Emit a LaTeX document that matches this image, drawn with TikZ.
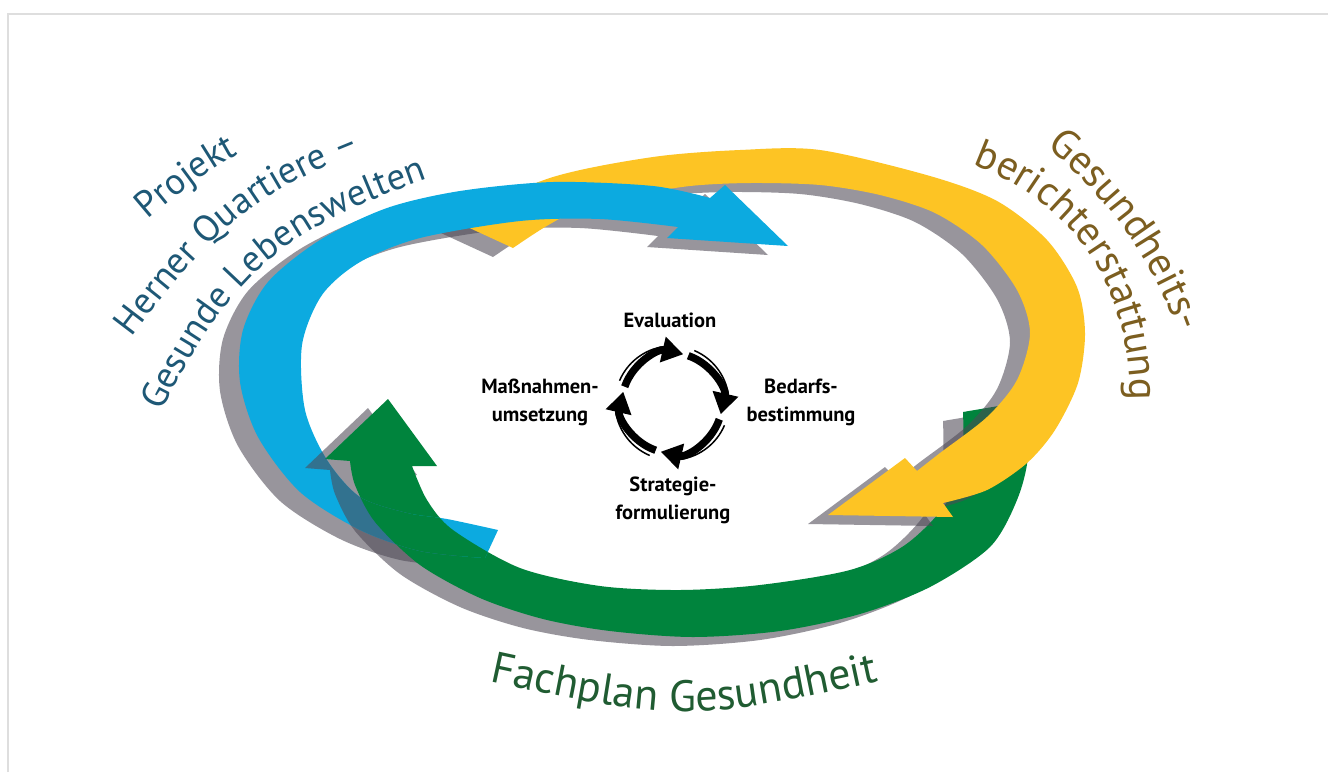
\documentclass[tikz,border=0pt]{standalone}
\usepackage{fontspec}
\setmainfont{PT Sans}
\usetikzlibrary{arrows.meta,decorations.text}
\definecolor{ringblue}{RGB}{12,170,224}
\definecolor{ringyellow}{RGB}{253,196,36}
\definecolor{ringgreen}{RGB}{0,132,61}
\definecolor{shadegray}{RGB}{78,74,86}
\definecolor{txtblue}{RGB}{30,88,118}
\definecolor{txtbrown}{RGB}{124,94,32}
\definecolor{txtgreen}{RGB}{32,92,50}
\definecolor{framegray}{RGB}{222,222,222}
\tikzstyle{ringshadow} = [fill=shadegray, fill opacity=0.58]
\tikzstyle{cyctext} = [font=\bfseries\fontsize{20.5}{28}\selectfont, align=center, inner sep=0pt]
\tikzstyle{cyclearc} = [line width=7.5pt, -{Triangle[length=21pt,width=25pt]}]
\tikzstyle{cyclethin} = [line width=1.5pt]
\newcommand\leftsize{\fontsize{37}{37}\selectfont}
\newcommand\rightsize{\fontsize{41}{41}\selectfont}
\newcommand\bottomsize{\fontsize{44}{44}\selectfont}
\newcommand\bluepath{plot[smooth] coordinates {(485,558) (420,551) (360,530) (300,492) (258,437) (240,382) (243,330) (268,282) (320,240) (387,208) (460,191) (553,182) (653,186) (710,198)}
  -- (725,185) -- (788,246) -- (667,238) -- (678,227)
  -- plot[smooth] coordinates {(678,227) (600,219) (520,221) (420,238) (360,262) (322,295) (302,345) (305,410) (327,460) (360,497) (407,513) (447,519) (498,530)} -- cycle}
\newcommand\yellowpath{plot[smooth] coordinates {(450,219) (553,177) (653,157) (740,150) (820,150) (930,176) (997,201) (1047,240) (1077,287) (1085,333) (1078,383) (1055,430) (1027,463) (987,490) (943,503)}
  -- (953,517) -- (828,515) -- (905,458) -- (917,471)
  -- plot[smooth] coordinates {(917,471) (940,453) (987,417) (1017,380) (1030,333) (1017,290) (982,245) (935,213) (880,195) (820,185) (750,183) (690,186) (630,196) (580,209) (545,227) (513,248)} -- cycle}
\newcommand\greenpath{plot[smooth] coordinates {(1022,402) (1028,455) (1017,500) (990,547) (930,587) (860,614) (780,631) (693,637) (610,631) (543,619) (480,598) (420,565) (375,522) (355,485) (350,461)}
  -- (325,459) -- (388,399) -- (437,466) -- (412,466)
  -- plot[smooth] coordinates {(412,466) (427,500) (453,530) (520,568) (600,586) (680,590) (760,585) (850,570) (905,545) (945,505) (962,460) (963,412)} -- cycle}
\begin{document}
\begin{tikzpicture}[x=1pt,y=-1pt]
\useasboundingbox (0,0) rectangle (1328,772);
\fill[white] (0,0) rectangle (1328,772);
\draw[framegray,line width=2pt] (7.7,772) -- (7.7,13.7) -- (1328,13.7);

\fill[ringshadow,shift={(-20,9)}] \bluepath;
\fill[ringshadow,shift={(-20,9)}] \greenpath;
\fill[ringgreen] \greenpath;
\fill[ringshadow,shift={(-20,9)}] \yellowpath;
\fill[ringyellow] \yellowpath;
\fill[ringblue] \bluepath;
\begin{scope}
  \clip \bluepath;
  \fill[ringshadow,shift={(-20,9)}] \greenpath;
  \fill[ringgreen] \greenpath;
\end{scope}

\path[decorate,decoration={text along path,text align=center,text color=txtblue,text={|\leftsize|Projekt}}]
  (138,228) .. controls (168,202) and (208,168) .. (250,148);
\path[decorate,decoration={text along path,text align=center,text color=txtblue,text={|\leftsize|Herner Quartiere –}}]
  (126,345) .. controls (206,239) and (242,197) .. (370,148);
\path[decorate,decoration={text along path,text align=center,text color=txtblue,text={|\leftsize|Gesunde Lebenswelten}}]
  (160,414) .. controls (232,272) and (282,230) .. (430,178);
\path[decorate,decoration={text along path,text align=center,text color=txtbrown,text={|\rightsize|Gesundheits-}}]
  (1030,134) .. controls (1103,188) and (1158,262) .. (1185,352);
\path[decorate,decoration={text along path,text align=center,text color=txtbrown,text={|\rightsize|berichterstattung}}]
  (950,158) .. controls (1070,190) and (1140,290) .. (1129,424);
\path[decorate,decoration={text along path,text align=center,text color=txtgreen,text={|\bottomsize|Fachplan Gesundheit}}]
  (455,674) .. controls (684,724) .. (913,674);

\coordinate (cyc) at (672,403);
\foreach \e in {-77,13,103,193}{
  \draw[cyclethin] (cyc) ++(\e-80:57) arc[start angle=\e-80, end angle=\e-22, radius=57];
  \draw[cyclearc] (cyc) ++(\e-84:50) arc[start angle=\e-84, end angle=\e, radius=50];
}
\node[cyctext] (eval) at (670,320) {Evaluation};
\node[cyctext] (bedarf) at (801,402) {Bedarfs-\\bestimmung};
\node[cyctext] (strat) at (673,500) {Strategie-\\formulierung};
\node[cyctext] (massn) at (540,402) {Maßnahmen-\\umsetzung};
\end{tikzpicture}
\end{document}
